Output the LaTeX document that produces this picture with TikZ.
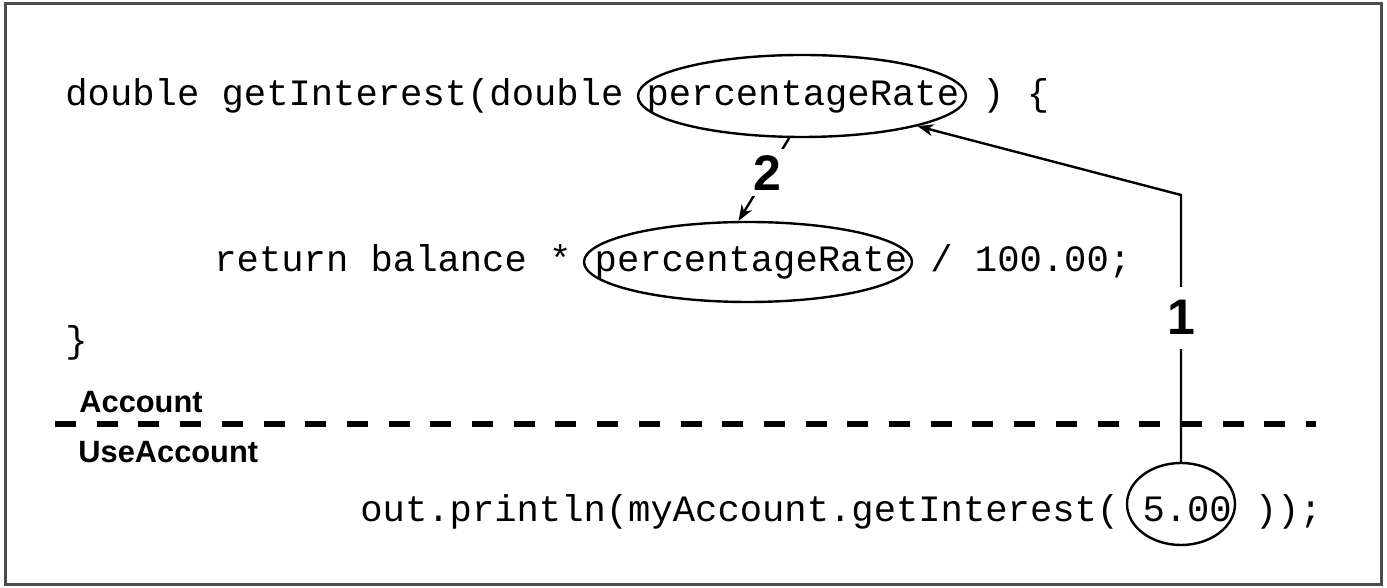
\documentclass[tikz,border=0pt]{standalone}
\usepackage{fontspec}
\usetikzlibrary{positioning, shapes.geometric, arrows.meta}
\newfontfamily\codefont{Liberation Mono}
\newfontfamily\labelfont{Liberation Sans}
\frenchspacing

\begin{document}
\begin{tikzpicture}[x=0.5pt, y=0.5pt,
  code/.style={font=\codefont\fontsize{18.6}{22}\selectfont, inner sep=0pt, anchor=base west},
  oval/.style={draw, ellipse, line width=1.2pt, inner sep=0pt},
  classname/.style={font=\labelfont\bfseries\fontsize{15.4}{18}\selectfont, inner sep=0pt, anchor=base west},
  numlabel/.style={font=\labelfont\bfseries\fontsize{25}{30}\selectfont, fill=white, inner sep=3pt},
  conn/.style={line width=1.2pt, -{Stealth[length=8pt, width=6pt]}}]
% frame
\useasboundingbox (0,0) rectangle (1387,588);
\draw[line width=1.5pt, black!70] (5,3) rectangle (1381,584);
% the method in Account
\node[code] (sig) at (65,482) {double getInterest(double};
\node[code, base right=11.15pt of sig] (rate1) {percentageRate};
\node[code, base right=11.15pt of rate1] (open) {) \{};
\node[code] (ret) at (214,316) {return balance *};
\node[code, base right=11.15pt of ret] (rate2) {percentageRate};
\node[code, base right=11.15pt of rate2] (div) {/ 100.00;};
\node[code] (close) at (65,235.5) {\}};
% class boundary
\node[classname] (acct) at (79,175) {Account};
\draw[line width=3.2pt, dash pattern=on 10.5pt off 10.35pt] (55,164) -- (1316,164);
\node[classname] (use) at (78,125) {UseAccount};
% the call in UseAccount
\node[code] (call) at (360,66) {out.println(myAccount.getInterest(};
\node[code, base right=11.15pt of call] (amount) {5.00};
\node[code, base right=11.15pt of amount] (tail) {));};
% circled parts
\node[oval, minimum width=164pt, minimum height=41pt] (o1) at (802,492) {};
\node[oval, minimum width=164pt, minimum height=40pt] (o2) at (748,326) {};
\node[oval, minimum width=54pt, minimum height=41pt] (o3) at (1181,84) {};
% steps 1 and 2
\coordinate (bend) at (1181,393);
\draw[conn] (o3.north) -- node[numlabel, pos=0.54, inner sep=7pt] (lbl1) {1} (bend) -- (o1);
\draw[conn] (o1.253) -- node[numlabel, pos=0.42] (lbl2) {2} (o2.103);
\end{tikzpicture}
\end{document}
